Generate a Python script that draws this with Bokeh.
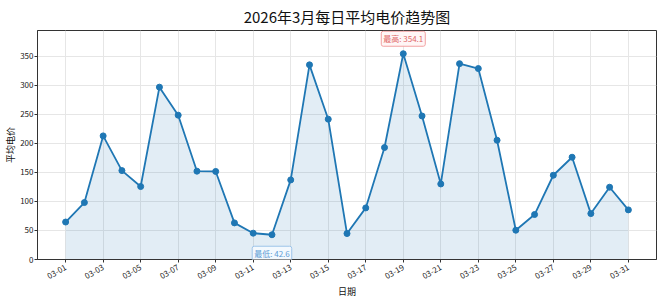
import math
from bokeh.plotting import figure
from bokeh.models import FixedTicker, Label, ColumnDataSource, Range1d
from bokeh.embed import file_html
from bokeh.resources import INLINE

dates = ["03-%02d" % d for d in range(1, 32)]
prices = [64.5, 98.0, 212.7, 153.0, 125.6, 296.6, 248.4, 152.0, 151.5, 63.0,
          45.3, 42.6, 137.0, 335.0, 241.5, 44.7, 88.8, 192.7, 354.1, 247.0,
          130.0, 337.0, 328.6, 205.3, 50.4, 77.4, 145.0, 176.0, 79.0, 124.4, 85.4]
title_text = "2026年3月每日平均电价趋势图"
x_label = "日期"
y_label = "平均电价"
y_ticks = [0, 50, 100, 150, 200, 250, 300, 350]

FONT = "Noto Sans CJK SC"
BLUE = "#1f77b4"

xs = list(range(1, len(dates) + 1))
src = ColumnDataSource(dict(x=xs, y=prices, zero=[0] * len(xs)))

x0, x1 = 1 - 1.5, len(xs) + 1.5
y1 = max(prices) + 40
p = figure(width=663, height=301, output_backend="svg", toolbar_location=None,
           x_range=Range1d(x0, x1), y_range=Range1d(0, y1),
           min_border_left=37, min_border_right=7, min_border_top=30, min_border_bottom=42)

p.varea(x="x", y1="zero", y2="y", source=src, fill_color=BLUE, fill_alpha=0.13)
p.line(x="x", y="y", source=src, line_color=BLUE, line_width=1.8)
p.scatter(x="x", y="y", source=src, size=6, fill_color=BLUE, line_color=BLUE)

p.title.text = title_text
p.title.align = "center"
p.title.text_font = FONT
p.title.text_font_size = "15px"
p.title.text_font_style = "normal"
p.title.text_color = "#111111"
p.title.text_line_height = 0.6
p.title.vertical_align = "top"
p.title.standoff = 4

p.xaxis.ticker = FixedTicker(ticks=xs[::2])
p.xaxis.major_label_overrides = {x: d for x, d in zip(xs, dates)}
p.xaxis.major_label_orientation = math.pi / 6
p.yaxis.ticker = FixedTicker(ticks=y_ticks)
p.xaxis.axis_label = x_label
p.yaxis.axis_label = y_label

for ax in (p.xaxis, p.yaxis):
    ax.major_label_text_font = FONT
    ax.major_label_text_font_size = "8px"
    ax.major_label_text_color = "#222222"
    ax.axis_label_text_font = FONT
    ax.axis_label_text_font_size = "9px"
    ax.axis_label_text_font_style = "normal"
    ax.axis_label_text_color = "#111111"
    ax.axis_line_color = "#333333"
    ax.major_tick_line_color = "#333333"
    ax.major_tick_in = 0
    ax.major_tick_out = 3
    ax.minor_tick_line_color = None
    ax.axis_label_standoff = 0
p.yaxis.major_label_standoff = 1
p.xaxis.major_label_standoff = 4

p.grid.grid_line_color = "#e6e6e6"
p.grid.grid_line_width = 1
p.outline_line_color = "#333333"
p.outline_line_width = 1

imax = prices.index(max(prices))
imin = prices.index(min(prices))
p.add_layout(Label(x=xs[imax], y=prices[imax], y_offset=15, text="最高: %.1f" % prices[imax],
                   text_align="center", text_baseline="middle", text_font=FONT,
                   text_font_size="8px", text_color="#e06666",
                   background_fill_color="#fff5f5", background_fill_alpha=0.9,
                   border_line_color="#f2a0a0", border_line_width=1, padding=2,
                   border_radius=2))
p.add_layout(Label(x=xs[imin], y=prices[imin], y_offset=-19, text="最低: %.1f" % prices[imin],
                   text_align="center", text_baseline="middle", text_font=FONT,
                   text_font_size="8px", text_color="#5b9bd5",
                   background_fill_color="#f5faff", background_fill_alpha=0.9,
                   border_line_color="#9ec5ea", border_line_width=1, padding=2,
                   border_radius=2))

open("out.html", "w").write(file_html(p, INLINE))
